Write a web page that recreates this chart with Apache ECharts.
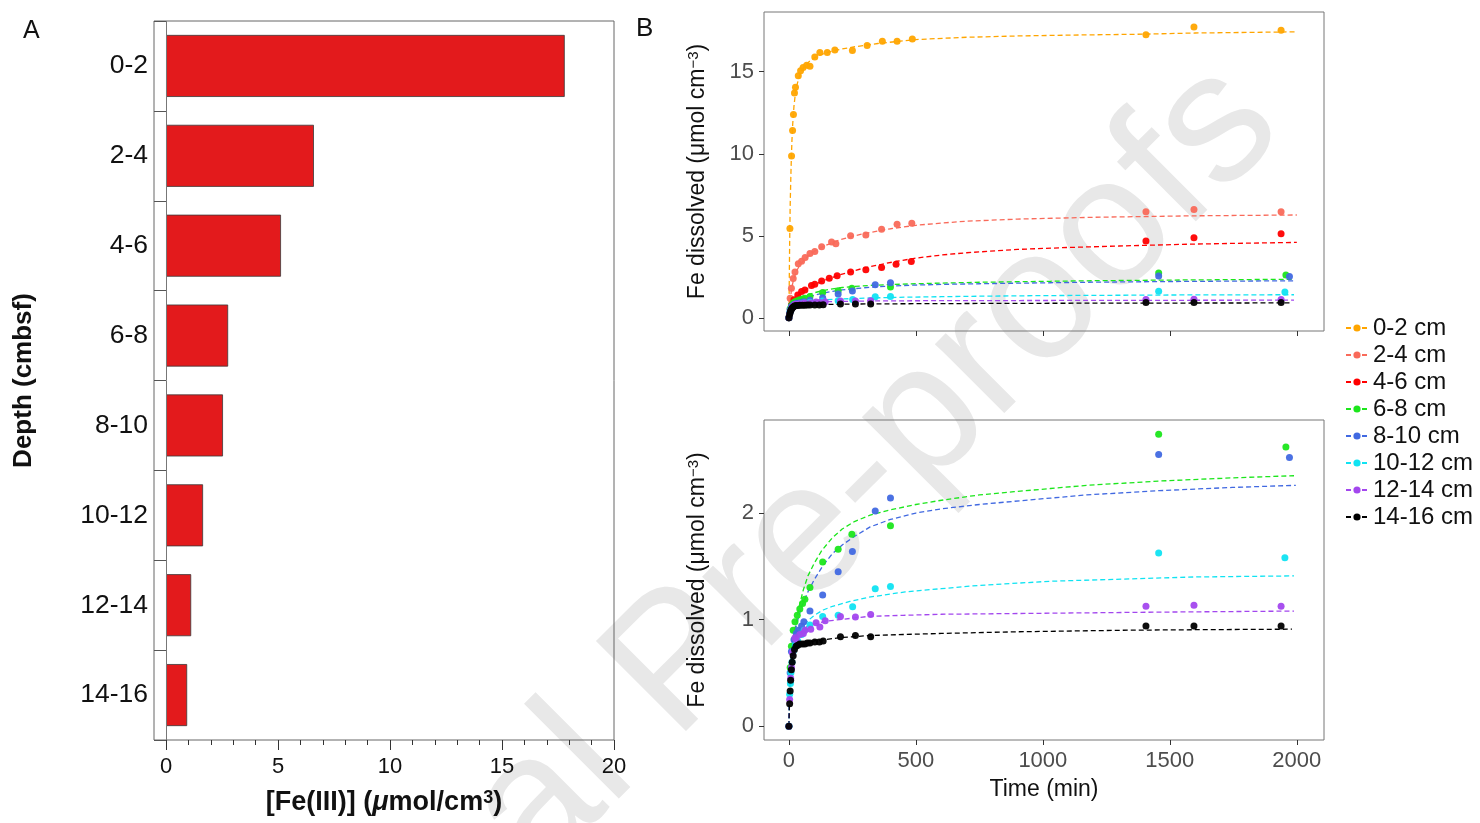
<!DOCTYPE html>
<html><head><meta charset="utf-8">
<script src="https://cdn.jsdelivr.net/npm/echarts@6/dist/echarts.min.js"></script>
<style>html,body{margin:0;padding:0;background:#fff}#c{width:1480px;height:823px}</style>
</head><body><div id="c"></div>
<script>
// ---------- Panel A data ----------
const depthCategories = ['0-2', '2-4', '4-6', '6-8', '8-10', '10-12', '12-14', '14-16'];
const feIII = [17.8, 6.6, 5.13, 2.77, 2.54, 1.65, 1.12, 0.94];
const barMajorTicks = [0, 5, 10, 15, 20];
const barMinorTicks = [0,1,2,3,4,5,6,7,8,9,10,11,12,13,14,15,16,17,18,19,20];

// ---------- Panel B data ----------
const seriesNames = ['0-2 cm', '2-4 cm', '4-6 cm', '6-8 cm', '8-10 cm', '10-12 cm', '12-14 cm', '14-16 cm'];
const timeTicks = [0, 500, 1000, 1500, 2000];
const topYTicks = [0, 5, 10, 15];
const bottomYTicks = [0, 1, 2];

// measured points [time (min), Fe dissolved]
const pts_0_2 = [[0,0],[4,5.45],[10.5,9.86],[14.5,11.42],[18,12.39],[22,13.7],[26,14.05],[37,14.76],[46,15.06],[56,15.26],[70,15.4],[83,15.33],[102,15.9],[122,16.17],[151,16.17],[181,16.33],[250,16.3],[308,16.6],[368,16.86],[426,16.86],[486,17.0],[1406,17.26],[1595,17.73],[1938,17.53]];
const pts_2_4 = [[0,0],[5,1.2],[10,1.8],[17,2.4],[24,2.8],[37,3.3],[50,3.45],[64,3.68],[83,3.93],[102,4.05],[129,4.33],[168,4.62],[185,4.52],[243,5.0],[303,5.05],[365,5.4],[426,5.7],[484,5.76],[1406,6.47],[1595,6.61],[1938,6.47]];
const pts_4_6 = [[0,0],[10,0.8],[20,1.1],[35,1.4],[50,1.6],[63,1.7],[89,1.98],[102,2.05],[129,2.25],[159,2.41],[190,2.57],[243,2.79],[303,2.93],[365,3.07],[422,3.27],[482,3.44],[1406,4.69],[1595,4.89],[1938,5.13]];
const pts_6_8 = [[0,0],[5,0.55],[10,0.75],[17,0.9],[24,0.98],[33,1.04],[43,1.1],[54,1.15],[63,1.19],[83,1.3],[133,1.54],[194,1.66],[248,1.8],[400,1.88],[1456,2.74],[1957,2.62]];
const pts_8_10 = [[0,0],[5,0.5],[10,0.7],[20,0.81],[29,0.87],[37,0.9],[50,0.94],[59,0.98],[83,1.08],[133,1.23],[194,1.45],[250,1.64],[340,2.02],[400,2.14],[1456,2.55],[1971,2.52]];
const pts_10_12 = [[0,0],[3,0.3],[6,0.4],[8,0.5],[12,0.6],[17,0.7],[25,0.76],[35,0.8],[50,0.86],[60,0.9],[83,0.95],[133,1.03],[194,1.04],[251,1.12],[340,1.29],[400,1.31],[1456,1.625],[1953,1.58]];
const pts_12_14 = [[0,0],[3,0.25],[7,0.45],[10,0.55],[14,0.69],[24,0.83],[29,0.81],[43,0.86],[57,0.87],[63,0.9],[86,0.91],[107,0.97],[122,0.93],[143,0.99],[203,1.03],[262,1.025],[322,1.047],[1406,1.125],[1595,1.134],[1938,1.125]];
const pts_14_16 = [[0,0],[3,0.21],[5,0.33],[7,0.43],[10,0.53],[13,0.6],[17,0.66],[22,0.72],[28,0.75],[35,0.76],[43,0.77],[53,0.77],[63,0.77],[73,0.78],[83,0.78],[102,0.79],[120,0.79],[135,0.8],[203,0.84],[262,0.85],[322,0.84],[1406,0.94],[1595,0.94],[1938,0.94]];

// fitted curves [time (min), Fe dissolved]
const fit_0_2 = [[0,0],[1,1.5],[2,3.1],[3,4.5],[5,6.8],[8,8.8],[10,9.9],[12,10.8],[15,11.8],[20,12.9],[25,13.6],[30,14.1],[38,14.55],[45,14.9],[60,15.3],[75,15.55],[90,15.75],[120,16.0],[150,16.17],[180,16.3],[250,16.5],[350,16.72],[500,16.96],[700,17.1],[900,17.18],[1150,17.24],[1400,17.29],[1600,17.36],[2000,17.43]];
const fit_2_4 = [[0,0],[2,0.45],[5,1.0],[10,1.7],[15,2.1],[20,2.4],[30,2.85],[40,3.13],[50,3.35],[75,3.75],[100,4.05],[125,4.27],[150,4.45],[200,4.75],[250,4.97],[300,5.15],[400,5.43],[500,5.64],[600,5.78],[700,5.89],[900,6.02],[1200,6.13],[1600,6.22],[2000,6.27]];
const fit_4_6 = [[0,0],[5,0.45],[10,0.7],[20,1.0],[30,1.25],[40,1.41],[50,1.55],[75,1.8],[100,2.02],[125,2.2],[150,2.35],[200,2.62],[250,2.85],[300,3.05],[350,3.22],[425,3.45],[500,3.64],[600,3.83],[700,3.97],[900,4.17],[1100,4.29],[1300,4.38],[1600,4.5],[2000,4.6]];
const fit_6_8 = [[0,0],[3,0.4],[8,0.65],[15,0.8],[22,0.9],[29,0.97],[40,1.12],[57,1.28],[75,1.41],[100,1.53],[130,1.65],[172,1.77],[210,1.85],[258,1.92],[320,1.98],[400,2.03],[500,2.08],[601,2.12],[750,2.17],[887,2.2],[1030,2.23],[1173,2.26],[1459,2.3],[1745,2.33],[1989,2.35]];
const fit_8_10 = [[0,0],[3,0.35],[8,0.6],[15,0.78],[22,0.87],[29,0.94],[40,1.04],[50,1.12],[75,1.26],[100,1.375],[135,1.51],[172,1.62],[210,1.7],[258,1.78],[320,1.87],[400,1.94],[500,2.0],[601,2.04],[750,2.08],[887,2.11],[1030,2.14],[1173,2.17],[1459,2.21],[1745,2.24],[1996,2.26]];
const fit_10_12 = [[0,0],[3,0.3],[8,0.55],[15,0.7],[22,0.77],[30,0.82],[45,0.89],[60,0.95],[80,1.0],[100,1.04],[135,1.09],[172,1.125],[240,1.17],[315,1.21],[458,1.26],[600,1.29],[744,1.32],[1030,1.36],[1316,1.38],[1600,1.4],[1989,1.41]];
const fit_12_14 = [[0,0],[3,0.35],[8,0.6],[15,0.75],[22,0.81],[29,0.85],[45,0.89],[60,0.92],[80,0.945],[100,0.96],[150,0.985],[200,1.0],[315,1.03],[450,1.04],[601,1.05],[1030,1.06],[1459,1.07],[1989,1.08]];
const fit_14_16 = [[0,0],[3,0.3],[8,0.55],[15,0.68],[22,0.72],[29,0.74],[45,0.76],[60,0.77],[100,0.8],[150,0.815],[200,0.83],[315,0.85],[450,0.86],[601,0.87],[887,0.885],[1316,0.9],[1602,0.905],[1981,0.91]];

const pointSets = [pts_0_2, pts_2_4, pts_4_6, pts_6_8, pts_8_10, pts_10_12, pts_12_14, pts_14_16];
const fitSets = [fit_0_2, fit_2_4, fit_4_6, fit_6_8, fit_8_10, fit_10_12, fit_12_14, fit_14_16];
const lowerPanelSeries = [3, 4, 5, 6, 7];

// ---------- styles ----------
const palette = ['#FFA500', '#F96A5A', '#FF0000', '#1CE61C', '#4169E1', '#10E3F2', '#A347EE', '#000000'];
const FONT = '"Liberation Sans", Arial, Helvetica, sans-serif';

const chart = echarts.init(document.getElementById('c'), null, {renderer: 'canvas'});

const series = [];
series.push({
  type: 'bar', xAxisIndex: 0, yAxisIndex: 0, data: feIII, barWidth: '69%',
  itemStyle: {color: '#E31A1C', borderColor: '#3a3a3a', borderWidth: 0.8},
  markLine: {silent: true, symbol: 'none', label: {show: false},
    lineStyle: {color: '#777', width: 1, type: 'solid'}, data: [{xAxis: 0}]}
});
const fitLine = (i, xi, yi) => ({type: 'line', name: seriesNames[i], xAxisIndex: xi, yAxisIndex: yi, data: fitSets[i],
  showSymbol: false, symbol: 'circle', smooth: false, z: 2,
  itemStyle: {color: palette[i]},
  lineStyle: {color: palette[i], width: 1.3, type: [5, 3]}});
const pointSeries = (i, xi, yi) => ({type: 'scatter', name: seriesNames[i], xAxisIndex: xi, yAxisIndex: yi, data: pointSets[i],
  symbolSize: 7, z: 3, itemStyle: {color: palette[i], opacity: 0.95}});
seriesNames.forEach((n, i) => series.push(fitLine(i, 2, 1)));
seriesNames.forEach((n, i) => series.push(pointSeries(i, 2, 1)));
lowerPanelSeries.forEach(i => series.push(fitLine(i, 3, 2)));
lowerPanelSeries.forEach(i => series.push(pointSeries(i, 3, 2)));

const plain = v => String(v);
const bAxisLabel = (vals) => ({customValues: vals, color: '#4D4D4D', fontSize: 22, fontFamily: FONT, margin: 10, formatter: plain});
const hiddenLine = {show: false, onZero: false};
const bYName = {fontSize: 23, color: '#111', fontFamily: FONT,
  rich: {s: {fontSize: 15, color: '#111', verticalAlign: 'top', fontFamily: FONT}}};

const option = {
  animation: false,
  backgroundColor: '#fff',
  textStyle: {fontFamily: FONT},
  grid: [
    {left: 154, top: 21, width: 460, height: 719, show: true, borderColor: '#666', borderWidth: 1, backgroundColor: 'transparent'},
    {left: 764, top: 12, width: 560, height: 319, show: true, borderColor: '#777', borderWidth: 1, backgroundColor: 'transparent'},
    {left: 764, top: 420, width: 560, height: 320, show: true, borderColor: '#777', borderWidth: 1, backgroundColor: 'transparent'}
  ],
  xAxis: [
    {gridIndex: 0, type: 'value', min: -0.54, max: 20, position: 'bottom',
      axisLine: hiddenLine, splitLine: {show: false},
      axisTick: {show: true, customValues: barMajorTicks, length: 10, lineStyle: {color: '#333'}},
      axisLabel: {customValues: barMajorTicks, fontSize: 22, color: '#111', margin: 16, fontFamily: FONT, formatter: plain},
      name: '{b|[Fe(III)] (}{i|μ}{b|mol/cm}{s|3}{b|)}', nameLocation: 'middle', nameGap: 49,
      nameTextStyle: {rich: {
        b: {fontSize: 27, fontWeight: 'bold', color: '#111', fontFamily: FONT},
        i: {fontSize: 27, fontWeight: 'bold', fontStyle: 'italic', color: '#111', fontFamily: FONT},
        s: {fontSize: 18, fontWeight: 'bold', color: '#111', verticalAlign: 'top', fontFamily: FONT}
      }}},
    {gridIndex: 0, type: 'value', min: -0.54, max: 20, position: 'bottom',
      axisLine: hiddenLine, splitLine: {show: false},
      axisTick: {show: true, customValues: barMinorTicks, length: 5, lineStyle: {color: '#333'}},
      axisLabel: {show: false}},
    {gridIndex: 1, type: 'value', min: -98, max: 2107, position: 'bottom',
      axisLine: hiddenLine, splitLine: {show: false},
      axisTick: {show: true, customValues: timeTicks, length: 5, lineStyle: {color: '#333'}},
      axisLabel: {show: false}},
    {gridIndex: 2, type: 'value', min: -98, max: 2107, position: 'bottom',
      axisLine: hiddenLine, splitLine: {show: false},
      axisTick: {show: true, customValues: timeTicks, length: 5, lineStyle: {color: '#333'}},
      axisLabel: bAxisLabel(timeTicks),
      name: 'Time (min)', nameLocation: 'middle', nameGap: 38,
      nameTextStyle: {fontSize: 23, color: '#111', fontFamily: FONT}}
  ],
  yAxis: [
    {gridIndex: 0, type: 'category', data: depthCategories, inverse: true, position: 'left',
      axisLine: hiddenLine,
      axisTick: {show: true, inside: true, length: 12, alignWithLabel: false, interval: 0, lineStyle: {color: '#555'}},
      axisLabel: {fontSize: 26.5, color: '#111', margin: 6, interval: 0, fontFamily: FONT},
      name: 'Depth (cmbsf)', nameLocation: 'middle', nameGap: 117,
      nameTextStyle: {fontSize: 26, fontWeight: 'bold', color: '#111', fontFamily: FONT}},
    {gridIndex: 1, type: 'value', min: -0.8, max: 18.64, position: 'left',
      axisLine: hiddenLine, splitLine: {show: false},
      axisTick: {show: true, customValues: topYTicks, length: 5, lineStyle: {color: '#333'}},
      axisLabel: bAxisLabel(topYTicks),
      name: 'Fe dissolved (μmol cm{s|−3})', nameLocation: 'middle', nameGap: 55, nameTextStyle: bYName},
    {gridIndex: 2, type: 'value', min: -0.13, max: 2.873, position: 'left',
      axisLine: hiddenLine, splitLine: {show: false},
      axisTick: {show: true, customValues: bottomYTicks, length: 5, lineStyle: {color: '#333'}},
      axisLabel: bAxisLabel(bottomYTicks),
      name: 'Fe dissolved (μmol cm{s|−3})', nameLocation: 'middle', nameGap: 55, nameTextStyle: bYName}
  ],
  legend: {
    data: seriesNames, orient: 'vertical', left: 1345, top: 316, selectedMode: false,
    itemWidth: 22, itemHeight: 9, itemGap: 3, padding: 0,
    textStyle: {fontSize: 24, color: '#111', fontFamily: FONT}
  },
  graphic: [
    {type: 'text', left: 23, top: 19, z: 10, style: {text: 'A', fontSize: 25, fill: '#111', fontFamily: FONT}},
    {type: 'text', left: 636, top: 16, z: 10, style: {text: 'B', fontSize: 26, fill: '#111', fontFamily: FONT}},
    {type: 'text', x: 1250, y: 95, rotation: Math.PI / 4, z: -10, silent: true,
      style: {text: 'Journal Pre-proofs', fontSize: 185, fill: '#e8e8e8', align: 'right', verticalAlign: 'middle', fontFamily: FONT}}
  ],
  series: series
};
chart.setOption(option);
</script></body></html>
